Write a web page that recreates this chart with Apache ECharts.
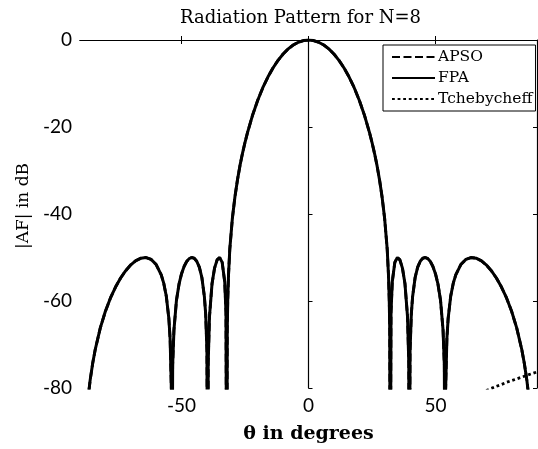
<!DOCTYPE html>
<html><head><meta charset="utf-8">
<script src="https://cdn.jsdelivr.net/npm/echarts@6/dist/echarts.min.js"></script>
<style>html,body{margin:0;padding:0;background:#fff}#c{width:538px;height:449px}</style>
</head><body><div id="c"></div>
<script>
// angle in degrees
const thetaDeg = [-90,-88,-87,-86,-85,-84,-82,-80,-78,-76,-74,-72,-70,-68,-66,-64,-62,-60,-58,-57,-56,-55,-54.5,-54,-53.83,-53.5,-53,-52,-51,-50,-49,-48,-47,-46,-45,-44,-43,-42,-41,-40.5,-40,-39.71,-39.5,-39,-38,-37,-36,-35,-34,-33,-32.5,-32.19,-32,-31.8,-31.5,-31,-30,-29,-28,-27,-26,-25,-24,-22,-20,-18,-16,-14,-12,-10,-8,-6,-4,-2,
  0,2,4,6,8,10,12,14,16,18,20,22,24,25,26,27,28,29,30,31,31.5,31.8,32,32.19,32.5,33,34,35,36,37,38,39,39.5,39.71,40,40.5,41,42,43,44,45,46,47,48,49,50,51,52,53,53.5,53.83,54,54.5,55,56,57,58,60,62,64,66,68,70,72,74,76,78,80,82,84,85,86,87,88,90];
// |AF| in dB, FPA
const fpaDb = [-120,-90.23,-83.18,-78.19,-74.32,-71.15,-66.19,-62.37,-59.30,-56.79,-54.71,-53.02,-51.69,-50.73,-50.15,-50.01,-50.44,-51.62,-54.00,-55.96,-58.92,-64.02,-68.76,-80.67,-120,-74.72,-66.69,-59.82,-56.13,-53.72,-52.06,-50.93,-50.26,-50.00,-50.18,-50.87,-52.23,-54.60,-59.02,-63.02,-71.50,-120,-74.27,-63.57,-56.05,-52.44,-50.55,-50.01,-51.12,-55.57,-62.70,-120,-66.58,-59.67,-53.99,-48.10,-41.10,-36.17,-32.25,-28.89,-26.05,-23.51,-21.23,-17.22,-13.85,-10.97,-8.52,-6.43,-4.67,-3.21,-2.04,-1.14,-0.51,-0.13,
  0,-0.13,-0.51,-1.14,-2.04,-3.21,-4.67,-6.43,-8.52,-10.97,-13.85,-17.22,-21.23,-23.51,-26.05,-28.89,-32.25,-36.17,-41.10,-48.10,-53.99,-59.67,-66.58,-120,-62.70,-55.57,-51.12,-50.01,-50.55,-52.44,-56.05,-63.57,-74.27,-120,-71.50,-63.02,-59.02,-54.60,-52.23,-50.87,-50.18,-50.00,-50.26,-50.93,-52.06,-53.72,-56.13,-59.82,-66.69,-74.72,-120,-80.67,-68.76,-64.02,-58.92,-55.96,-54.00,-51.62,-50.44,-50.01,-50.15,-50.73,-51.69,-53.02,-54.71,-56.79,-59.30,-62.37,-66.19,-71.15,-74.32,-78.19,-83.18,-90.23,-120];
// APSO coincides with FPA in the reference
const apsoDb = fpaDb.slice();
// Tchebycheff: only the visible tail (bottom right)
const tchebyTheta = [70,72,74,76,78,80,82,84,86,88,90];
const tchebyDb = [-80.6,-80.1,-79.6,-79.2,-78.7,-78.3,-77.9,-77.5,-77.1,-76.7,-76.3];
const xTickValues = [-50,0,50];
const seriesNames = ['APSO','FPA','Tchebycheff'];

function pairs(xs, ys){ return xs.map((x,i)=>[x, ys[i]]); }

const chart = echarts.init(document.getElementById('c'), null, {renderer:'canvas'});
const axisLineStyle = {color:'#000', width:1.2};
const serif = 'DejaVu Serif';
const sans = 'Lato';
chart.setOption({
  animation:false,
  backgroundColor:'#fff',
  title:{text:'Radiation Pattern for N=8', left:175, top:4,
    textStyle:{fontFamily:serif, fontSize:18, fontWeight:'normal', color:'#000'}},
  grid:{left:80, right:1, top:40, bottom:57},
  legend:{data:seriesNames, orient:'vertical', left:383, top:45,
    itemWidth:43, itemHeight:14, itemGap:5, padding:[4,3,4,8],
    borderColor:'#000', borderWidth:1, backgroundColor:'#fff',
    itemStyle:{color:'rgba(0,0,0,0)', borderWidth:0},
    textStyle:{fontFamily:serif, fontSize:15.5, color:'#000', padding:[0,0,0,-2]}},
  xAxis:[{type:'value', min:-90, max:90, position:'bottom',
    name:'θ in degrees', nameLocation:'middle', nameGap:37,
    nameTextStyle:{fontFamily:serif, fontSize:19, fontWeight:'bold', color:'#000'},
    axisLine:{show:true, lineStyle:axisLineStyle},
    axisTick:{show:true, inside:true, length:4, customValues:xTickValues, lineStyle:{color:'#000'}},
    axisLabel:{show:true, customValues:xTickValues, fontFamily:sans, fontSize:19, color:'#000', margin:8},
    splitLine:{show:false}},
   {type:'value', min:-90, max:90, position:'top',
    axisLine:{show:true, onZero:false, lineStyle:axisLineStyle},
    axisTick:{show:true, inside:true, length:4, customValues:xTickValues, lineStyle:{color:'#000'}},
    axisLabel:{show:false}, splitLine:{show:false}}],
  yAxis:[{type:'value', min:-80, max:0, interval:20, position:'left',
    name:'|AF| in dB', nameLocation:'middle', nameGap:45, nameRotate:90,
    nameTextStyle:{fontFamily:serif, fontSize:17, color:'#000', padding:[0,0,0,16]},
    axisLine:{show:true, lineStyle:axisLineStyle},
    axisTick:{show:true, inside:true, length:4, lineStyle:{color:'#000'}},
    axisLabel:{fontFamily:sans, fontSize:19, color:'#000', margin:8},
    splitLine:{show:false}},
   {type:'value', min:-80, max:0, interval:20, position:'right',
    axisLine:{show:true, onZero:false, lineStyle:axisLineStyle},
    axisTick:{show:true, inside:true, length:4, lineStyle:{color:'#000'}},
    axisLabel:{show:false}, splitLine:{show:false}}],
  series:[
    {name:'APSO', type:'line', data:pairs(thetaDeg, apsoDb), symbol:'none', z:2,
     lineStyle:{color:'#000', width:2.8, type:[8,3.5]}, itemStyle:{color:'#000'}},
    {name:'FPA', type:'line', data:pairs(thetaDeg, fpaDb), symbol:'none', z:4,
     lineStyle:{color:'#000', width:3, type:'solid'}, itemStyle:{color:'#000'}},
    {name:'Tchebycheff', type:'line', data:pairs(tchebyTheta, tchebyDb), symbol:'none', z:3,
     lineStyle:{color:'#000', width:2.8, type:[2.8,2.8]}, itemStyle:{color:'#000'}}
  ]
});
</script></body></html>
